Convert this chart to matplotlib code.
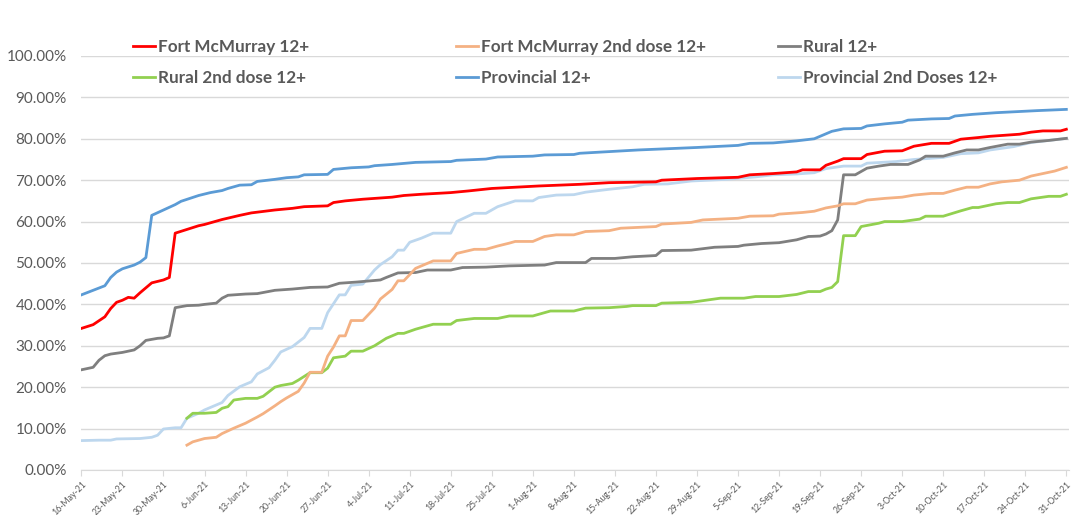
import numpy as np
import matplotlib
matplotlib.use("Agg")
import matplotlib.pyplot as plt
import matplotlib.dates as mdates
from matplotlib.ticker import PercentFormatter

plt.rcParams['font.family'] = ['Lato', 'DejaVu Sans']

START = np.datetime64('2021-05-16')

# days since 16-May-21 and coverage (%)
fm_days = [0, 2, 4, 5, 6, 7, 8, 9, 10, 11, 12, 14, 15, 16, 18, 20, 21, 24, 27, 29, 33, 36, 38, 42, 43, 45, 48,
           51, 53, 55, 58, 63, 66, 70, 78, 85, 90, 98, 99, 105, 112, 114, 118, 122, 123, 126, 127, 129, 130,
           133, 134, 137, 140, 142, 145, 148, 150, 153, 155, 160, 162, 164, 167, 168]
fm_vals = [34.2, 35.1, 37.0, 39.0, 40.5, 41.0, 41.7, 41.5, 42.8, 44.0, 45.2, 45.9, 46.5, 57.2, 58.1, 59.0, 59.3,
           60.5, 61.5, 62.1, 62.8, 63.2, 63.6, 63.8, 64.6, 65.0, 65.4, 65.7, 65.9, 66.3, 66.6, 67.0, 67.4,
           68.0, 68.6, 69.0, 69.4, 69.6, 70.0, 70.4, 70.7, 71.3, 71.6, 72.0, 72.5, 72.5, 73.6, 74.6, 75.2,
           75.2, 76.2, 77.0, 77.1, 78.2, 78.9, 78.9, 79.9, 80.3, 80.6, 81.1, 81.6, 81.9, 81.9, 82.3]

fm2_days = [18, 19, 21, 23, 24, 26, 28, 30, 31, 33, 34, 35, 37, 38, 39, 41, 42, 43, 44, 45, 46, 48, 50, 51,
            53, 54, 55, 57, 59, 60, 63, 64, 67, 69, 71, 73, 74, 77, 79, 81, 84, 86, 90, 92, 98, 99, 104, 106,
            112, 114, 118, 119, 123, 125, 127, 129, 130, 132, 134, 137, 140, 142, 145, 147, 149, 151, 153,
            155, 157, 160, 162, 164, 166, 168]
fm2_vals = [6.0, 6.8, 7.6, 7.9, 8.8, 10.1, 11.3, 12.8, 13.6, 15.5, 16.5, 17.4, 19.0, 21.0, 23.6, 23.6, 27.5,
            29.7, 32.4, 32.4, 36.1, 36.1, 39.1, 41.3, 43.6, 45.7, 45.7, 48.7, 49.9, 50.5, 50.5, 52.3, 53.3,
            53.3, 54.1, 54.8, 55.2, 55.2, 56.4, 56.8, 56.8, 57.6, 57.8, 58.4, 58.8, 59.4, 59.8, 60.4, 60.8,
            61.3, 61.4, 61.8, 62.2, 62.5, 63.3, 63.8, 64.3, 64.3, 65.2, 65.6, 65.9, 66.4, 66.8, 66.8, 67.6,
            68.3, 68.3, 69.1, 69.6, 70.0, 71.0, 71.6, 72.2, 73.1]

rural_days = [0, 2, 3, 4, 5, 7, 9, 10, 11, 13, 14, 15, 16, 18, 20, 21, 23, 24, 25, 28, 30, 33, 36, 39, 42,
              44, 47, 51, 52, 54, 57, 59, 63, 65, 69, 73, 79, 81, 86, 87, 91, 94, 98, 99, 104, 108, 112, 113,
              116, 119, 122, 124, 126, 127, 128, 129, 130, 132, 134, 136, 138, 141, 143, 144, 147, 149, 151,
              153, 155, 158, 160, 162, 165, 168]
rural_vals = [24.2, 24.8, 26.5, 27.6, 28.0, 28.4, 29.0, 30.0, 31.3, 31.8, 31.9, 32.4, 39.2, 39.7, 39.8, 40.0,
              40.3, 41.5, 42.2, 42.5, 42.6, 43.4, 43.7, 44.1, 44.2, 45.1, 45.4, 45.9, 46.5, 47.6, 47.7, 48.3,
              48.3, 48.9, 49.0, 49.3, 49.5, 50.1, 50.1, 51.1, 51.1, 51.5, 51.8, 53.0, 53.1, 53.8, 54.0, 54.3,
              54.7, 54.9, 55.6, 56.4, 56.5, 57.0, 57.8, 60.4, 71.3, 71.3, 72.9, 73.4, 73.8, 73.8, 74.9, 75.8,
              75.8, 76.6, 77.3, 77.3, 77.9, 78.7, 78.7, 79.2, 79.6, 80.1]

rural2_days = [18, 19, 21, 23, 24, 25, 26, 28, 30, 31, 33, 34, 36, 37, 39, 41, 42, 43, 45, 46, 48, 50, 52,
               54, 55, 57, 60, 63, 64, 67, 71, 73, 77, 78, 80, 84, 86, 90, 93, 94, 98, 99, 104, 109, 113, 115,
               119, 122, 124, 126, 127, 128, 129, 130, 132, 133, 136, 137, 140, 143, 144, 147, 150, 152, 153,
               156, 158, 160, 162, 165, 167, 168]
rural2_vals = [12.5, 13.7, 13.7, 13.9, 14.9, 15.3, 16.9, 17.3, 17.3, 17.8, 20.0, 20.4, 20.9, 21.7, 23.5, 23.5,
               24.6, 27.1, 27.5, 28.7, 28.7, 30.0, 31.8, 33.0, 33.0, 34.0, 35.2, 35.2, 36.1, 36.6, 36.6, 37.2,
               37.2, 37.6, 38.4, 38.4, 39.1, 39.2, 39.5, 39.7, 39.7, 40.3, 40.5, 41.5, 41.5, 41.9, 41.9, 42.4,
               43.1, 43.1, 43.7, 44.1, 45.5, 56.6, 56.6, 58.8, 59.6, 60.0, 60.0, 60.6, 61.3, 61.3, 62.6, 63.4,
               63.4, 64.3, 64.6, 64.6, 65.5, 66.1, 66.1, 66.6]

prov_days = [0, 2, 4, 5, 6, 7, 9, 10, 11, 12, 14, 16, 17, 20, 22, 24, 25, 27, 29, 30, 33, 35, 37, 38, 42, 43,
             46, 49, 50, 53, 57, 63, 64, 69, 71, 77, 79, 84, 85, 90, 95, 100, 105, 112, 114, 118, 122, 125,
             127, 128, 130, 133, 134, 137, 140, 141, 145, 148, 149, 152, 156, 163, 168]
prov_vals = [42.3, 43.4, 44.5, 46.5, 47.8, 48.6, 49.5, 50.2, 51.3, 61.5, 62.8, 64.1, 64.9, 66.3, 67.0, 67.5,
             68.0, 68.8, 68.9, 69.7, 70.2, 70.6, 70.8, 71.3, 71.4, 72.6, 73.0, 73.2, 73.5, 73.8, 74.3, 74.5,
             74.8, 75.1, 75.6, 75.8, 76.1, 76.2, 76.5, 76.9, 77.3, 77.6, 77.9, 78.4, 78.9, 79.0, 79.5, 80.0,
             81.2, 81.8, 82.4, 82.5, 83.1, 83.6, 84.0, 84.5, 84.8, 84.9, 85.5, 85.9, 86.3, 86.8, 87.1]

prov2_days = [0, 3, 5, 6, 10, 12, 13, 14, 16, 17, 18, 20, 21, 24, 25, 27, 29, 30, 32, 33, 34, 36, 38, 39, 41,
              42, 44, 45, 46, 48, 50, 51, 53, 54, 55, 56, 58, 60, 63, 64, 67, 69, 71, 74, 77, 78, 81, 84, 86,
              90, 94, 96, 100, 104, 110, 115, 118, 122, 125, 127, 130, 133, 134, 139, 142, 147, 150, 153, 155,
              159, 162, 165, 168]
prov2_vals = [7.1, 7.2, 7.2, 7.5, 7.6, 7.9, 8.4, 9.9, 10.2, 10.2, 12.5, 13.7, 14.5, 16.3, 18.0, 20.1, 21.3,
              23.2, 24.7, 26.5, 28.5, 29.8, 32.0, 34.2, 34.2, 38.0, 42.3, 42.3, 44.6, 44.9, 48.3, 49.6, 51.5,
              53.1, 53.1, 55.0, 56.0, 57.2, 57.2, 60.0, 62.0, 62.0, 63.6, 65.0, 65.0, 65.8, 66.4, 66.5, 67.1,
              67.8, 68.4, 69.0, 69.1, 69.8, 70.2, 70.8, 71.3, 71.5, 71.8, 72.8, 73.4, 73.4, 74.1, 74.5, 75.0,
              75.5, 76.4, 76.6, 77.3, 78.1, 79.1, 79.6, 80.1]

tick_days = list(range(0, 169, 7))

series = [
    ("Fort McMurray 12+", fm_days, fm_vals, "#FF0000"),
    ("Fort McMurray 2nd dose 12+", fm2_days, fm2_vals, "#F4B183"),
    ("Rural 12+", rural_days, rural_vals, "#7F7F7F"),
    ("Rural 2nd dose 12+", rural2_days, rural2_vals, "#92D050"),
    ("Provincial 12+", prov_days, prov_vals, "#5B9BD5"),
    ("Provincial 2nd Doses 12+", prov2_days, prov2_vals, "#BDD7EE"),
]


def to_dates(days):
    return START + np.array(days, dtype='timedelta64[D]')


fig = plt.figure(figsize=(10.74, 5.15), dpi=100)
ax = fig.add_axes([0.0751, 0.0874, 0.9205, 0.8039])

lines = {}
# draw light lines first so the darker ones sit on top
for name, days, vals, color in series[::-1]:
    ln, = ax.plot(to_dates(days), vals, color=color, lw=2.0, label=name, solid_joinstyle='round')
    lines[name] = ln

ax.set_ylim(0, 100)
ax.set_yticks(np.arange(0, 101, 10))
ax.yaxis.set_major_formatter(PercentFormatter(100, decimals=2))
ax.set_xlim(to_dates([0])[0] - np.timedelta64(3, 'h'), to_dates([0])[0] + np.timedelta64(4044, 'h'))
ax.set_xticks(to_dates(tick_days))
ax.xaxis.set_major_formatter(mdates.DateFormatter('%-d-%b-%y'))

ax.grid(axis='y', color='#D9D9D9', lw=1.0)
ax.set_axisbelow(True)
for s in ['top', 'right', 'left']:
    ax.spines[s].set_visible(False)
ax.spines['bottom'].set_color('#D9D9D9')
ax.tick_params(axis='y', length=0, pad=10, labelsize=11, labelcolor='#595959')
ax.tick_params(axis='x', length=4, color='#D9D9D9', labelsize=6.3, labelcolor='#595959', pad=3)
for lbl in ax.get_xticklabels():
    lbl.set_rotation(45)
    lbl.set_ha('right')
    lbl.set_rotation_mode('anchor')

# legend laid out as three separate columns, like the original
columns = [
    (["Fort McMurray 12+", "Rural 2nd dose 12+"], 133),
    (["Fort McMurray 2nd dose 12+", "Provincial 12+"], 456),
    (["Rural 12+", "Provincial 2nd Doses 12+"], 778),
]
for names, xpx in columns:
    leg = fig.legend([lines[n] for n in names], names, loc='upper left',
                     bbox_to_anchor=(xpx / 1074, 1 - 39 / 515), frameon=False,
                     prop={'weight': 'bold', 'size': 12.3}, labelcolor='#595959',
                     handlelength=1.3, handletextpad=0.15, labelspacing=0.9,
                     borderpad=0, borderaxespad=0)

fig.savefig("out.png", dpi=100)
